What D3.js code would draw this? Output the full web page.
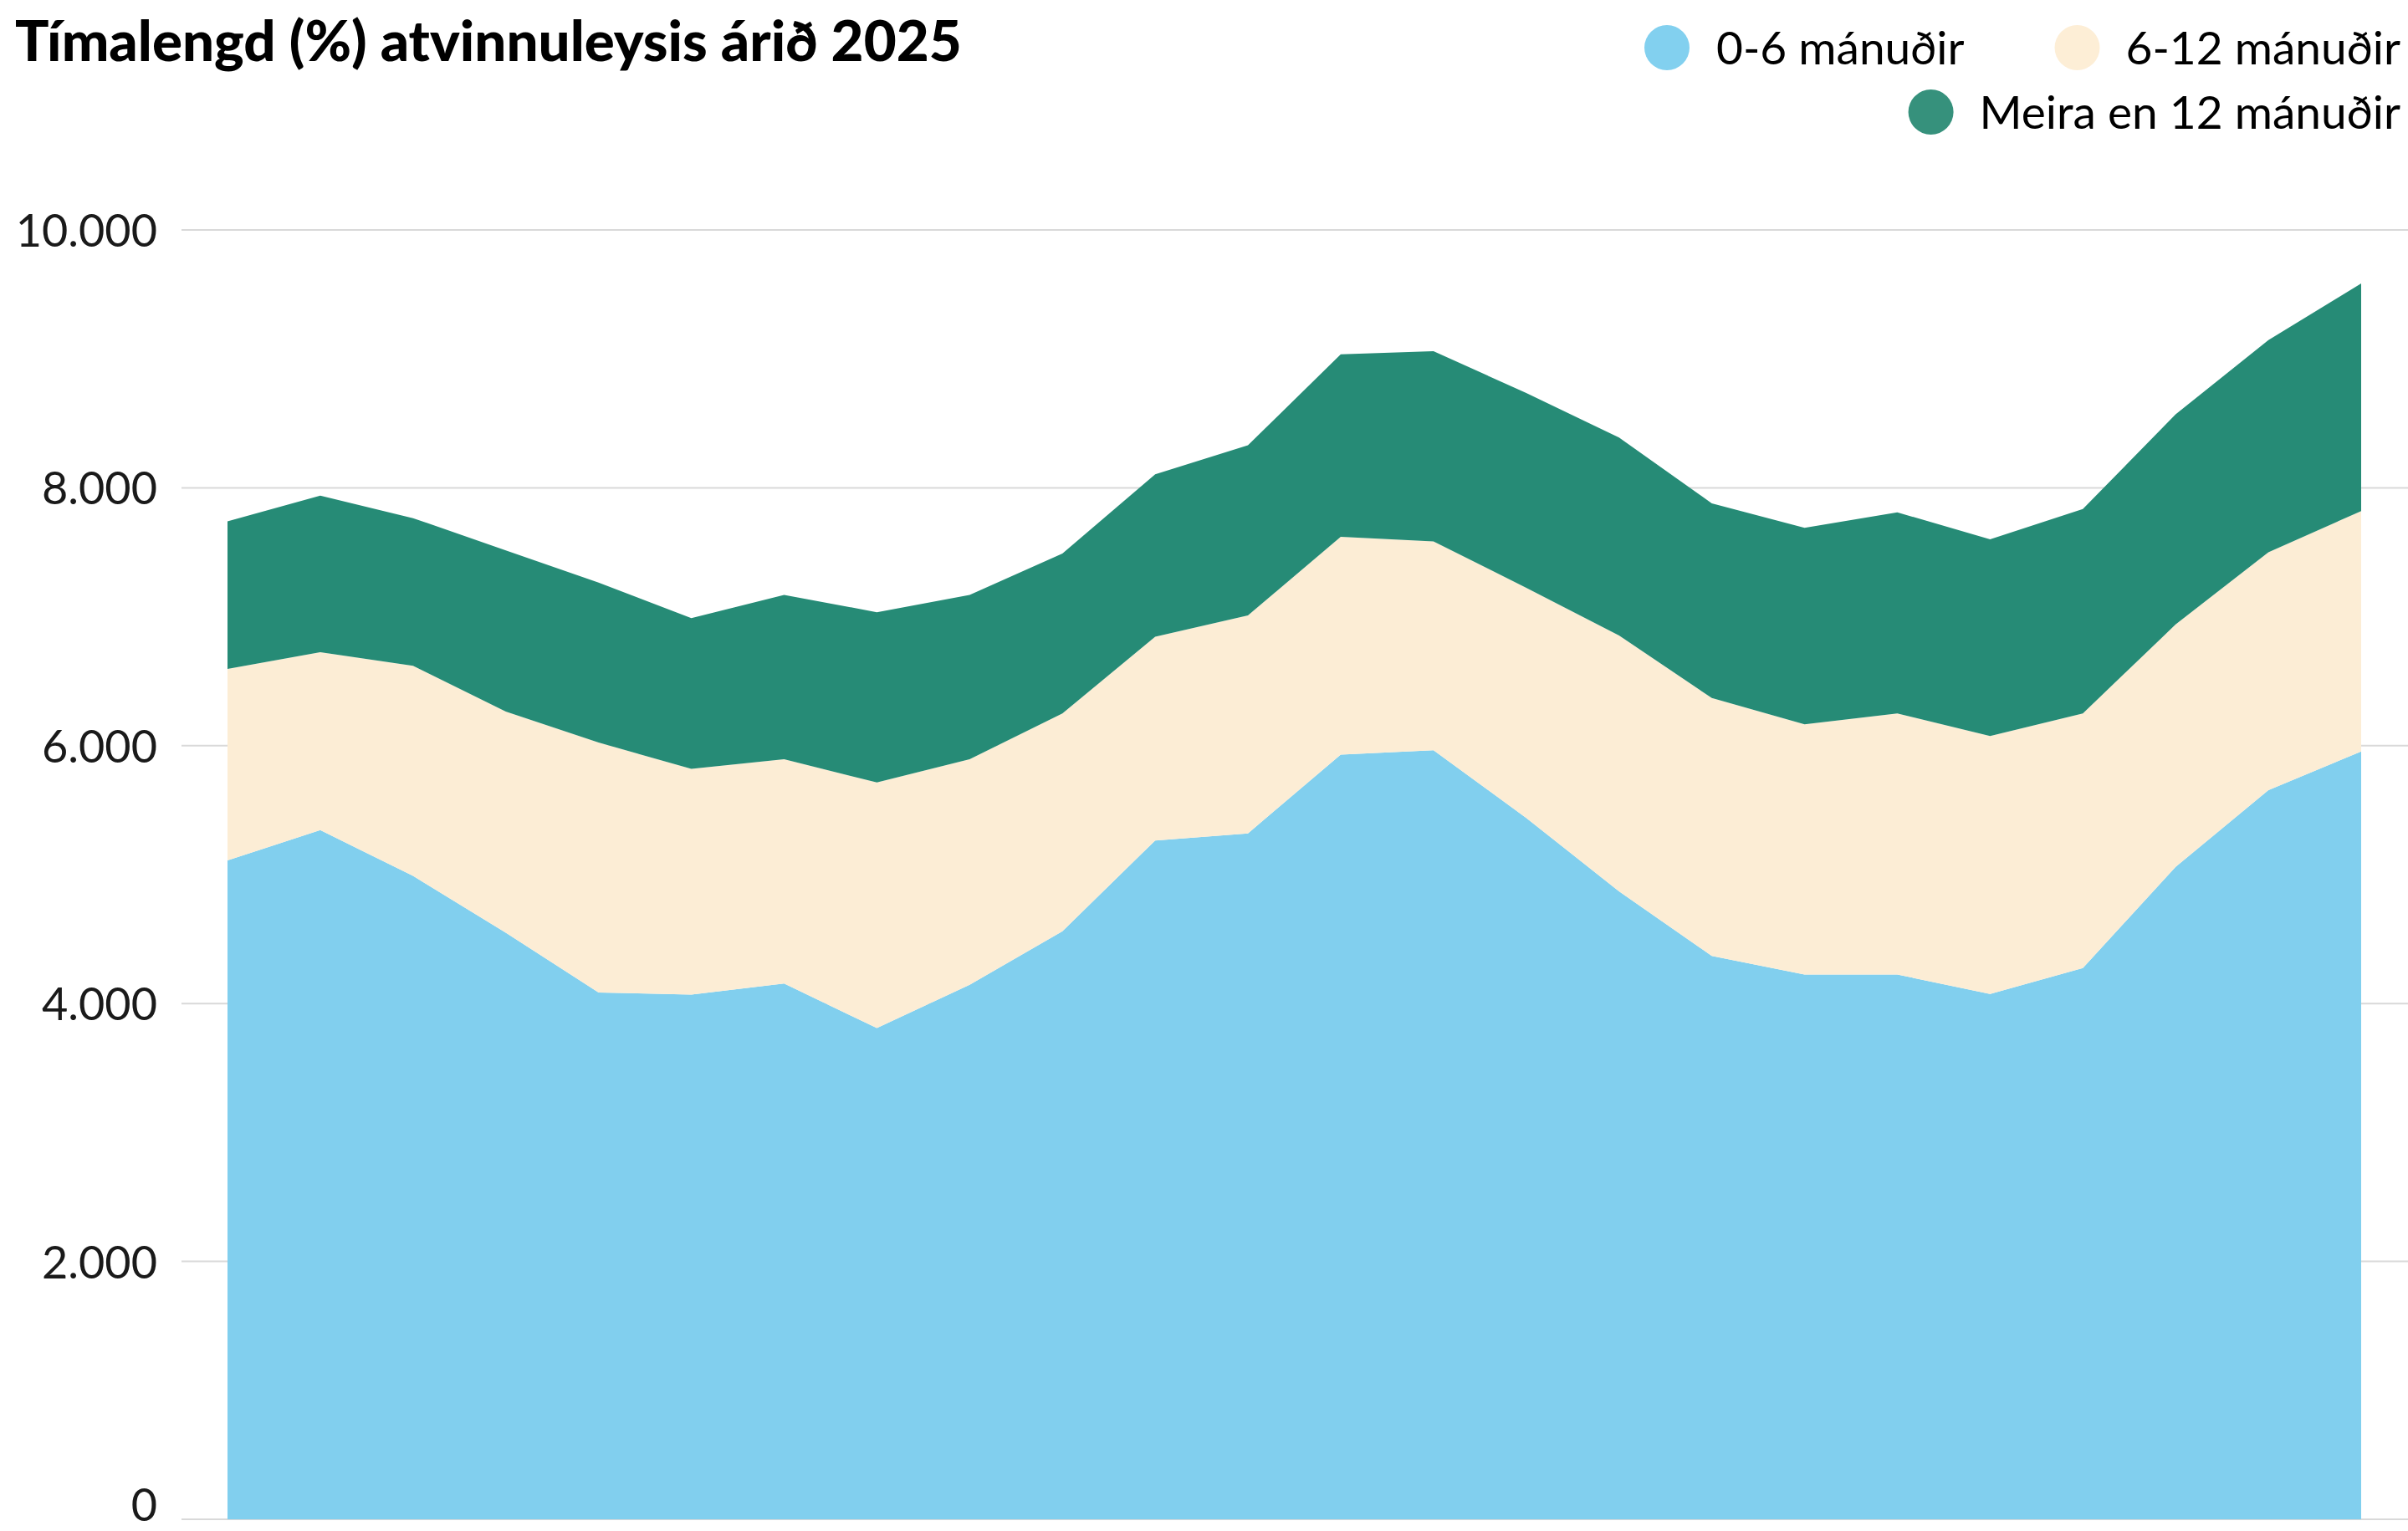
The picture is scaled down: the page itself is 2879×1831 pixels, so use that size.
<!DOCTYPE html>
<html>
<head>
<meta charset="utf-8">
<script src="https://cdn.jsdelivr.net/npm/d3@7"></script>
<style>
  body { margin: 0; background: #fff; }
  svg { display: block; }
</style>
</head>
<body>
<svg id="chart"></svg>
<script>
// periods (no axis labels shown in the chart)
const periods = ["1","2","3","4","5","6","7","8","9","10","11","12",
                 "13","14","15","16","17","18","19","20","21","22","23","24"];

// fjöldi atvinnulausra eftir tímalengd
const short = [5110, 5345, 4990, 4550, 4085, 4070, 4155, 3810, 4145, 4560, 5265, 5320,
               5930, 5965, 5440, 4870, 4370, 4225, 4225, 4075, 4275, 5060, 5655, 5955];
const mid   = [1485, 1380, 1630, 1715, 1940, 1750, 1740, 1905, 1750, 1690, 1580, 1690,
               1690, 1620, 1785, 1985, 2000, 1940, 2025, 2000, 1975, 1880, 1845, 1865];
const long  = [1145, 1215, 1145, 1250, 1240, 1170, 1275, 1320, 1275, 1240, 1260, 1320,
               1415, 1475, 1510, 1535, 1510, 1525, 1560, 1525, 1585, 1630, 1645, 1765];

const keys = ["0-6 mánuðir", "6-12 mánuðir", "Meira en 12 mánuðir"];
const colors = ["#81cfee", "#fcedd5", "#268b76"];
const legendColors = ["#82d0ef", "#fdeed6", "#36917c"];
const yTicks = [0, 2000, 4000, 6000, 8000, 10000];
const title = "Tímalengd (%) atvinnuleysis árið 2025";

const W = 2879, H = 1831;
const svg = d3.select("#chart").attr("width", W).attr("height", H);

const rows = periods.map((p, i) => ({ p: p, [keys[0]]: short[i], [keys[1]]: mid[i], [keys[2]]: long[i] }));
const series = d3.stack().keys(keys)(rows);

const x = d3.scalePoint().domain(periods).range([272, 2823]);
const y = d3.scaleLinear().domain([0, 10000]).range([1817, 275]);

const is = d3.formatLocale({ decimal: ",", thousands: ".", grouping: [3], currency: ["", " kr."] });
const fmt = is.format(",");

// gridlines
svg.append("g")
  .selectAll("line")
  .data(yTicks)
  .join("line")
    .attr("x1", 217).attr("x2", W)
    .attr("y1", d => y(d)).attr("y2", d => y(d))
    .attr("stroke", "#d9d9d9")
    .attr("stroke-width", 2)

// y axis labels
const yAxis = svg.append("g")
  .attr("transform", "translate(188,0)")
  .call(d3.axisLeft(y).tickValues(yTicks).tickFormat(fmt).tickSize(0).tickPadding(0));
yAxis.select(".domain").remove();
yAxis.selectAll("text")
  .attr("font-family", "Lato, sans-serif")
  .attr("font-size", 54)
  .attr("fill", "#1a1a1a")
  .attr("dy", d => d === 0 ? "0.03em" : "0.36em");  // 0 sits at the bottom edge

// areas
const area = d3.area()
  .x(d => x(d.data.p))
  .y0(d => y(d[0]))
  .y1(d => y(d[1]));

svg.append("g")
  .selectAll("path")
  .data(series)
  .join("path")
    .attr("d", area)
    .attr("fill", (d, i) => colors[i]);

// title
const t = svg.append("text")
  .attr("x", 18).attr("y", 73)
  .attr("font-family", "Lato, sans-serif")
  .attr("font-weight", 900)
  .attr("font-size", 60)
  .attr("fill", "#000")
  .text(title);
let tw = t.node().getComputedTextLength();
t.attr("font-size", 60 * 1132 / tw);

// legend
const legendItems = [
  { k: 0, cx: 1993, tx: 2052, anchor: "start", y: 57 },
  { k: 1, cx: 2493, tx: 2870, anchor: "end", y: 57 },
  { k: 2, cx: 2295, tx: 2870, anchor: "end", y: 134 }
];
const lg = svg.append("g");
lg.selectAll("text")
  .data(legendItems)
  .join("text")
    .attr("x", d => d.tx).attr("y", d => d.y)
    .attr("dy", "0.36em")
    .attr("text-anchor", d => d.anchor)
    .attr("font-family", "Lato, sans-serif")
    .attr("font-size", 55)
    .attr("fill", "#000")
    .text(d => keys[d.k])
    .each(function(d) {
      // circle sits just left of where the label starts
      if (d.anchor === "end") d.cx = d.tx - this.getComputedTextLength() - 58;
    });
lg.selectAll("circle")
  .data(legendItems)
  .join("circle")
    .attr("cx", d => d.cx).attr("cy", d => d.y)
    .attr("r", 27)
    .attr("fill", d => legendColors[d.k]);
</script>
</body>
</html>
